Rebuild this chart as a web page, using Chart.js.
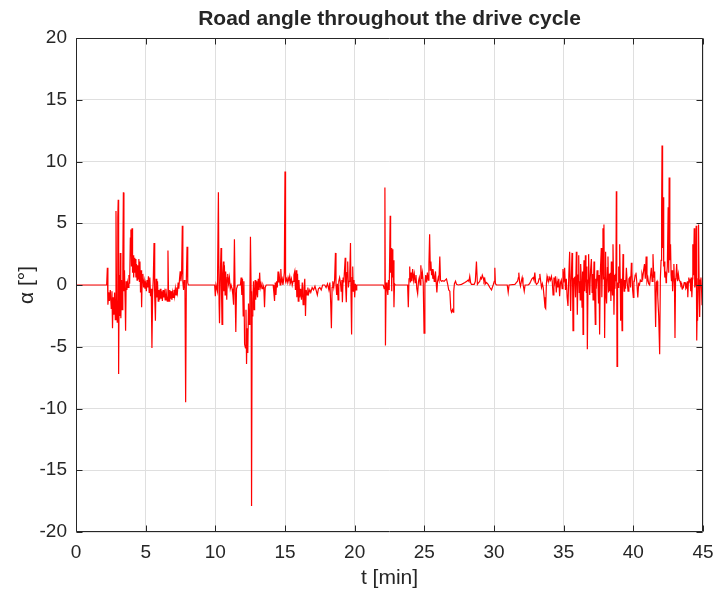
<!DOCTYPE html>
<html>
<head>
<meta charset="utf-8">
<script src="https://cdn.jsdelivr.net/npm/chart.js@4.4.1/dist/chart.umd.min.js"></script>
<style>
html,body{margin:0;padding:0;background:#ffffff;}
canvas{display:block;}
</style>
</head>
<body>
<canvas id="c" width="713" height="592"></canvas>
<script>
// ---------------- data ----------------
const chartTitle = 'Road angle throughout the drive cycle';
const xLabel = 't [min]';
const yLabel = 'α [°]';
const xTicks = [0, 5, 10, 15, 20, 25, 30, 35, 40, 45];
const yTicks = [-20, -15, -10, -5, 0, 5, 10, 15, 20];

const timeMin = [
0,2.20,2.25,2.29,2.35,2.40,2.46,2.53,2.58,2.62,2.67,2.72,2.77,2.82,2.87,2.91,2.96,3.00,3.03,3.06,3.10,3.14,3.18,3.22,3.27,3.31,3.36,3.40,3.44,3.48,3.53,3.56,3.60,3.65,3.70,3.75,3.80,3.85,3.90,3.94,3.98,4.02,4.06,4.10,4.14,4.18,4.22,4.26,4.30,4.34,4.38,4.42,4.47,4.51,4.55,4.59,4.63,4.67,4.71,4.75,4.80,4.85,4.90,4.95,5.00,5.05,5.10,5.15,5.20,5.25,5.30,5.35,5.40,5.45,5.50,5.55,5.60,5.65,5.70,5.75,5.80,5.85,5.90,5.95,6.00,6.05,6.10,6.15,6.20,6.25,6.30,6.35,6.40,6.45,6.50,6.55,6.60,6.64,6.68,6.73,6.78,6.83,6.88,6.93,6.98,7.03,7.08,7.13,7.18,7.23,7.28,7.33,7.38,7.43,7.48,7.53,7.58,7.63,7.67,7.72,7.77,7.82,7.87,7.92,7.97,8.02,8.06,
9.95,10.00,10.05,10.15,10.22,10.27,10.30,10.35,10.41,10.45,10.48,10.53,10.58,10.62,10.65,10.70,10.74,10.78,10.82,10.86,10.89,10.95,11.01,11.07,11.13,11.20,11.26,11.31,11.37,11.42,11.47,11.52,11.61,11.80,11.85,11.90,11.95,12.00,12.05,12.10,12.16,12.20,12.24,12.28,12.33,12.38,12.43,12.48,12.52,12.57,12.60,12.64,12.69,12.74,12.78,12.82,12.86,12.90,12.94,12.98,13.03,13.08,13.13,13.18,13.23,13.28,13.35,13.42,13.48,13.53,13.58,13.65,
14.15,14.20,14.25,14.30,14.35,14.40,14.45,14.50,14.55,14.60,14.65,14.70,14.75,14.80,14.85,14.90,14.95,15.00,15.04,15.10,15.16,15.22,15.28,15.34,15.40,15.46,15.52,15.58,15.64,15.70,15.75,15.80,15.85,15.90,15.95,16.00,16.06,16.12,16.18,16.24,16.30,16.36,16.42,16.47,16.52,16.58,16.64,16.70,16.78,16.85,16.95,17.05,17.15,17.25,17.32,17.40,17.50,17.60,17.70,17.85,17.95,18.05,18.15,18.22,18.28,18.33,18.38,18.43,18.50,18.56,18.62,18.66,18.71,18.76,18.81,18.86,18.92,18.98,19.03,19.08,19.12,19.17,19.22,19.27,19.32,19.36,19.40,19.45,19.50,19.55,19.60,19.65,19.70,19.74,19.78,19.82,19.86,19.90,19.95,20.00,20.05,20.10,20.15,
22.05,22.12,22.17,22.21,22.26,22.32,22.38,22.43,22.48,22.55,22.58,22.62,22.66,22.70,22.74,22.78,22.82,22.86,22.92,
23.80,23.85,23.90,23.95,24.00,24.05,24.10,24.16,24.22,24.28,24.34,24.40,24.46,24.52,24.58,24.64,24.70,24.75,24.80,24.86,24.92,24.98,25.04,25.10,25.16,25.22,25.28,25.33,25.38,25.43,25.47,25.52,25.56,25.61,25.66,25.71,25.76,25.80,25.85,25.90,25.95,26.00,26.05,26.11,26.16,26.23,26.32,26.42,26.50,26.59,26.67,26.75,26.83,26.90,26.95,27.02,27.07,27.11,27.16,27.24,27.31,27.43,27.67,27.91,28.05,28.14,28.20,28.26,28.32,28.38,28.58,28.66,28.74,28.81,28.90,28.98,29.04,29.10,29.16,29.22,29.28,29.34,29.40,29.46,29.58,29.70,29.82,29.94,30.02,30.06,30.10,30.18,30.95,31.02,31.08,31.50,31.60,31.69,31.75,31.78,31.84,31.90,31.96,32.02,32.08,32.17,32.23,32.45,32.55,32.64,32.72,32.81,32.87,32.93,32.99,33.05,33.17,33.23,33.29,33.35,33.41,33.47,33.53,33.60,33.66,33.71,33.76,33.81,33.87,33.93,33.99,34.05,34.12,34.18,34.24,
34.30,34.35,34.41,34.47,34.53,34.59,34.65,34.71,34.77,34.83,34.89,34.95,35.01,35.07,35.13,35.19,35.25,35.31,35.37,35.43,35.47,35.50,35.55,35.60,35.64,35.67,35.72,35.79,35.85,35.91,35.95,35.98,36.03,36.08,36.12,36.15,36.19,36.22,36.27,36.32,36.36,36.39,36.43,36.46,36.51,36.56,36.60,36.63,36.67,36.70,36.75,36.79,36.83,36.87,36.93,36.99,37.04,37.08,37.11,37.15,37.18,37.22,37.27,37.31,37.34,37.40,37.46,37.50,37.54,37.58,37.63,37.70,37.74,37.78,37.82,37.86,37.89,37.92,37.94,37.98,38.01,38.04,38.06,38.10,38.14,38.18,38.22,38.26,38.30,38.35,38.39,38.42,38.46,38.50,38.54,38.58,38.61,38.65,38.68,38.71,38.75,38.78,38.81,38.83,38.87,38.90,38.95,39.00,39.02,39.06,39.09,39.14,39.19,39.23,39.26,39.30,39.34,39.38,39.44,39.50,39.56,39.62,39.68,39.74,39.80,
39.86,39.90,39.95,40.00,40.04,40.07,40.13,40.19,40.25,40.32,40.38,40.44,40.50,40.56,40.62,40.68,40.74,40.80,40.86,40.92,40.98,41.04,41.10,41.17,41.23,41.29,41.35,41.41,41.47,41.53,41.57,41.60,41.65,41.70,41.74,41.77,41.82,41.89,41.94,41.99,42.03,42.06,42.10,42.14,42.18,42.21,42.26,42.31,42.35,42.38,42.44,42.50,42.54,42.57,42.62,42.67,42.71,42.74,42.78,42.82,42.87,42.91,42.95,42.99,43.03,43.06,43.11,43.17,43.23,43.29,43.35,43.41,43.47,43.53,43.59,43.65,43.71,43.77,43.83,43.88,43.91,43.95,43.98,44.03,44.08,44.12,44.15,44.20,44.25,44.27,44.32,44.37,44.41,44.44,44.48,44.51,44.54,44.56,44.59,44.61,44.65,44.68,44.72,44.76,44.80,44.85,44.90,44.93,44.97,45.00
];

const angleDeg = [
0,0,1.4,-1.6,-0.6,-1.3,-0.4,-1.9,-0.5,-3.5,-1.0,-2.4,-0.6,-2.8,6.0,-1.2,-3.0,5.5,6.9,-7.2,0.8,-2.5,2.6,-2.7,0.4,-2.0,1.5,7.5,-0.5,1.2,-1.5,-3.7,0.3,-0.4,0.2,-0.2,0.8,0.1,3.8,4.5,1.5,4.6,1.0,2.4,0.6,2.2,1.0,2.1,0.6,1.7,0.4,1.6,0.5,2.1,0.3,1.9,-0.6,1.2,-1.8,0.5,0.9,-0.2,0.3,-0.3,0.1,-0.5,0.4,-0.2,0.7,-0.6,0.6,-0.9,-0.3,-5.1,-0.8,0.6,3.4,-1.0,-2.9,0.5,-1.0,0.3,-1.3,-0.4,-1.2,-0.3,-1.1,-0.5,-1.3,-0.4,-1.0,-0.6,-1.2,-0.3,-0.9,-1.3,2.8,-0.5,-1.3,-0.4,-1.1,-0.5,-1.2,-0.6,-1.0,-0.4,-0.9,-0.3,-0.8,-0.2,-0.6,0.2,-0.3,0.5,1.1,0.3,1.0,4.8,0.2,-0.4,0.4,-0.2,-9.5,0.5,3.1,0.2,0,
0,-0.9,0,-0.5,7.5,-1.5,-3.1,0.5,3.0,-1.0,-3.2,0.8,1.9,-0.5,1.6,-0.8,1.1,0.2,-1.2,0.6,0.9,0.1,0.6,-0.3,0.0,-0.3,-0.8,-1.6,3.7,-0.6,-3.8,-0.3,0.0,0.0,0.6,-0.8,0.5,-2.5,0.3,-4.8,-5.1,-2.0,-6.4,-3.5,-5.5,-1.5,-3.2,-1.0,3.9,-0.5,-17.9,-2.5,-1.4,0.3,-2.0,-0.8,0.4,-1.2,0.3,-0.6,-1.0,0.5,-0.4,1.0,-0.2,0.1,-0.3,0.0,-0.2,-1.8,-0.2,0,
0,-0.6,-1.3,0.2,-0.8,0.3,-0.2,1.1,0.2,0.6,0.0,1.3,0.3,0.5,0.0,0.4,1.0,9.2,0.3,0.5,0.2,0.6,0.3,0.7,0.2,0.5,0.0,0.3,0.8,1.1,-0.4,1.2,-1.0,0.9,-1.3,0.4,-1.0,-0.3,-1.2,0.2,-1.6,-0.2,0.5,-2.5,-0.4,-0.8,-0.2,-0.7,-0.4,-0.6,-0.2,-0.4,-0.1,-0.5,-0.8,-0.3,-0.2,-0.4,0.0,0.0,-0.2,0.1,-0.4,0.2,-1.5,-3.5,-0.2,0.3,-0.2,0.4,2.6,0.0,-0.8,0.1,-1.2,0.3,0.6,0.2,-0.5,0.4,-1.4,0.6,0.2,1.2,2.2,-0.3,-1.4,1.0,1.9,-0.2,0.3,1.0,3.4,-1.0,-4.0,0.6,1.5,-0.5,0.4,-1.0,0.1,-0.4,0,
0,-0.3,7.9,-4.9,0.2,-0.2,-0.8,0.4,-0.4,5.6,1.0,3.0,-0.5,2.9,0.6,2.0,-1.8,0.1,0,
0,-1.8,0.5,1.5,0.2,1.0,0.3,1.3,0.4,0.9,0.2,0.8,-0.3,-0.7,0.3,0.6,0.0,1.6,0.5,1.0,0.2,-3.9,0.0,0.8,0.2,1.0,0.4,1.7,4.1,1.2,1.9,0.8,1.3,0.5,0.9,0.3,0.7,1.1,0.2,-0.6,0.3,0.6,0.4,2.3,0.4,0.3,0.35,0.3,0.4,0.5,0.1,-0.4,-0.5,-2.0,-2.2,-2.0,-2.2,-0.5,0.1,0.3,0.05,0.0,0.05,0.2,0.3,0.4,0.3,0.7,0.2,0.05,0.05,0.3,1.9,0.05,0.2,0.3,0.6,0.5,0.8,0.6,0.3,0.5,0.1,0.2,0.05,-0.2,-0.4,0.0,0.3,1.4,0.1,0.0,0.0,-0.6,0.0,0.05,0.2,0.3,0.6,1.0,0.2,-0.1,0.3,0.6,0.1,-0.5,0.0,0.0,0.1,0.3,0.5,0.6,0.4,1.0,0.2,0.05,0.2,0.5,0.9,0.3,-0.2,0.1,-0.2,-1.0,-1.8,-1.9,0.1,0.7,0.4,0.3,0.6,0.4,0.7,0.3,-0.8,
0.6,0.2,0.7,-0.6,0.3,-0.2,0.5,-0.9,0.2,0.4,-0.3,1.3,0.2,1.4,-0.4,0.5,-1.0,-1.7,0.8,2.7,-0.5,-2.1,0.6,2.6,0.3,-3.7,0.5,0.6,-1.0,2.7,0.2,-2.4,0.8,2.4,-0.6,0.3,-1.2,1.7,0.4,-1.8,1.1,-4.0,0.6,2.0,-0.5,2.4,0.8,-0.6,1.5,-5.2,0.4,2.5,0.3,-0.8,1.2,2.1,-0.6,0.9,-1.2,0.6,1.9,-0.4,-3.2,0.5,-0.3,1.2,0.3,-1.5,0.8,-4.0,1.0,3.0,-1.0,1.6,4.6,0.5,4.9,0.2,-4.3,0.6,2.7,-0.8,0.5,-1.5,1.4,2.3,-0.6,0.9,-0.5,1.0,-1.3,1.9,0.2,-0.8,3.3,0.5,-2.4,0.8,-0.3,0.9,0.3,7.6,0.0,-6.6,0.2,-0.2,1.5,0.2,3.3,0.3,-2.9,0.5,-3.7,0.4,2.5,0.3,-0.5,0.4,-0.3,1.4,0.2,-0.5,0.5,0.6,-0.2,
1.8,1.1,-0.4,-1.0,0.3,0.3,0.8,1.0,0.2,-1.0,0.1,0.0,0.4,0.3,0.9,0.6,1.2,1.7,0.5,2.3,0.3,0.6,0.1,0.0,0.7,1.4,0.3,2.5,0.6,1.1,-1.5,-3.4,0.2,0.3,-0.8,-1.0,-2.5,-5.6,0.5,2.0,6.0,11.3,3.0,7.1,1.5,1.9,0.6,1.1,0.2,0.6,1.5,6.3,1.0,8.7,2.0,3.3,0.8,0.3,1.2,-0.5,0.7,1.7,0.2,-4.3,0.5,0.6,1.7,0.3,0.9,0.4,0.3,0.0,0.1,-0.3,-0.2,0.2,0.2,-0.3,-0.2,0.3,-1.0,0.2,0.6,0.3,0.4,-0.5,0.6,-1.0,0.5,3.3,0.8,4.6,-0.2,0.0,1.0,4.8,0.3,-4.5,-1.5,-2.9,0.5,4.9,0.2,-2.6,0.4,0.6,-0.5,-1.6,1.0,3.0
];

// ---------------- chart ----------------
const FONT = '"Liberation Sans", Arial, Helvetica, sans-serif';
const AXIS_COLOR = '#262626';

const points = timeMin.map((t, i) => ({ x: t, y: angleDeg[i] }));

const framePlugin = {
  id: 'matlabFrame',
  afterDatasetsDraw(chart) {
    const { ctx, chartArea: a, scales } = chart;
    ctx.save();
    ctx.strokeStyle = AXIS_COLOR;
    ctx.lineWidth = 1;
    const L = Math.round(a.left) + 0.5, R = Math.round(a.right) - 0.5;
    const T = Math.round(a.top) + 0.5, B = Math.round(a.bottom) - 0.5;
    ctx.beginPath();
    ctx.rect(L, T, R - L, B - T);
    const tl = 6;
    xTicks.forEach(v => {
      const x = Math.round(scales.x.getPixelForValue(v)) + 0.5;
      ctx.moveTo(x, B); ctx.lineTo(x, B - tl);
      ctx.moveTo(x, T); ctx.lineTo(x, T + tl);
    });
    yTicks.forEach(v => {
      const y = Math.round(scales.y.getPixelForValue(v)) + 0.5;
      ctx.moveTo(L, y); ctx.lineTo(L + tl, y);
      ctx.moveTo(R, y); ctx.lineTo(R - tl, y);
    });
    ctx.stroke();
    // title
    ctx.fillStyle = AXIS_COLOR;
    ctx.font = 'bold 21px ' + FONT;
    ctx.textAlign = 'center';
    ctx.textBaseline = 'alphabetic';
    ctx.fillText(chartTitle, (a.left + a.right) / 2, 25);
    ctx.restore();
  }
};

new Chart(document.getElementById('c'), {
  type: 'line',
  data: {
    datasets: [{
      data: points,
      borderColor: '#ff0000',
      borderWidth: 1.2,
      pointRadius: 0,
      tension: 0,
      fill: false
    }]
  },
  options: {
    responsive: false,
    animation: false,
    events: [],
    layout: { padding: { top: 38, right: 0, bottom: 0, left: 0 } },
    plugins: { legend: { display: false }, tooltip: { enabled: false }, title: { display: false } },
    scales: {
      x: {
        type: 'linear',
        min: 0, max: 45,
        afterBuildTicks: s => { s.ticks = xTicks.map(v => ({ value: v })); },
        afterFit: s => { s.height = 60; s.paddingLeft = 0; s.paddingRight = 10; },
        grid: { color: '#dfdfdf', drawTicks: false, lineWidth: 1 },
        border: { display: false },
        ticks: { color: AXIS_COLOR, font: { family: FONT, size: 19 }, padding: 9, maxRotation: 0 },
        title: { display: true, text: xLabel, color: AXIS_COLOR, font: { family: FONT, size: 21 }, padding: { top: 0, bottom: 1 } }
      },
      y: {
        type: 'linear',
        min: -20, max: 20,
        afterBuildTicks: s => { s.ticks = yTicks.map(v => ({ value: v })); },
        afterFit: s => { s.width = 76; s.paddingTop = 0; s.paddingBottom = 0; },
        grid: { color: '#dfdfdf', drawTicks: false, lineWidth: 1 },
        border: { display: false },
        ticks: { color: AXIS_COLOR, font: { family: FONT, size: 19 }, padding: 9 },
        title: { display: true, text: yLabel, color: AXIS_COLOR, font: { family: FONT, size: 21 }, padding: { top: 15, bottom: 0 } }
      }
    }
  },
  plugins: [framePlugin]
});
</script>
</body>
</html>
